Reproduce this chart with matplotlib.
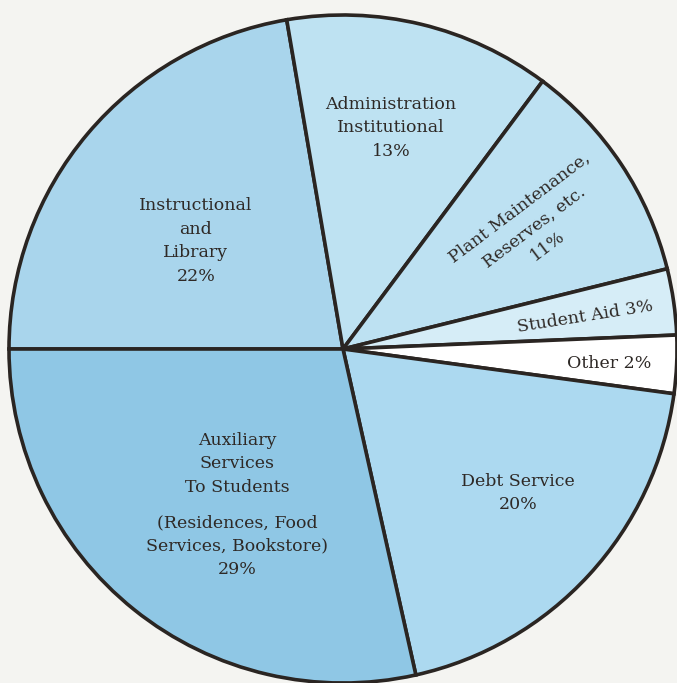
import numpy as np
import matplotlib.pyplot as plt

# Winkel der Sektoren, wie sie im Bild gezeichnet sind (Grad, im Uhrzeigersinn ab 9 Uhr)
categories = ["Instructional and Library", "Administration Institutional",
              "Plant Maintenance, Reserves, etc.", "Student Aid", "Other",
              "Debt Service", "Auxiliary Services To Students"]
shares = [80.3, 46.4, 39.4, 11.5, 10.1, 69.7, 102.6]
colors = ["#a9d5ec", "#bee2f2", "#bde1f2", "#d6edf7", "#ffffff",
          "#acd9f0", "#8fc7e5"]

# Beschriftungen (Text, x, y in Pixel von oben links, Drehung)
labels = [
    ("Instructional\nand\nLibrary\n22%", 196, 241, 0),
    ("Administration\nInstitutional\n13%", 391, 128, 0),
    ("Plant Maintenance,\nReserves, etc.\n11%", 534, 227, 37),
    ("Student Aid 3%", 585, 317, 9),
    ("Other 2%", 609, 363, 0),
    ("Debt Service\n20%", 518, 493, 0),
    ("Auxiliary\nServices\nTo Students", 237, 464, 0),
    ("(Residences, Food\nServices, Bookstore)\n29%", 237, 546, 0),
]

W, H = 677, 683
fig = plt.figure(figsize=(W / 100, H / 100), dpi=100, facecolor="#f4f4f1")
ax = fig.add_axes([0, 0, 1, 1])

ax.pie(shares, colors=colors, startangle=180, counterclock=False,
       radius=334, center=(343, H - 349), frame=True,
       wedgeprops=dict(edgecolor="#2a2522", linewidth=2.6))
ax.set_xlim(0, W)
ax.set_ylim(0, H)
ax.axis("off")

for txt, x, y, rot in labels:
    ax.text(x, H - y, txt, ha="center", va="center", rotation=rot,
            rotation_mode="anchor", multialignment="center",
            fontsize=12.5, family="DejaVu Serif", color="#2e2926",
            linespacing=1.5)

plt.savefig("out.png", dpi=100, facecolor=fig.get_facecolor())
